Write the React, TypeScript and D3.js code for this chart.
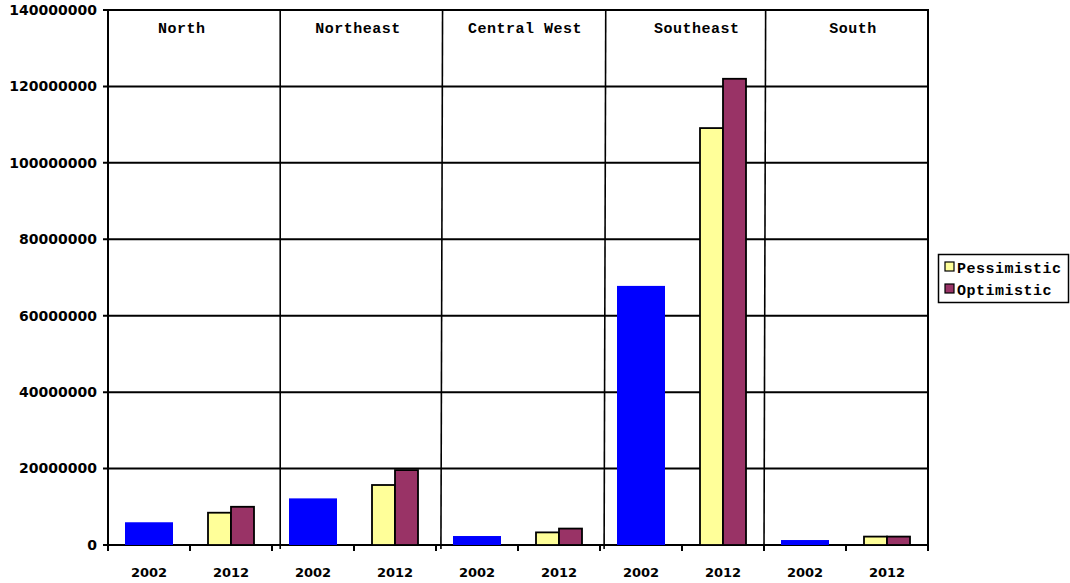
import { useEffect, useRef } from 'react';
import * as d3 from 'd3';

const regions = ['North', 'Northeast', 'Central West', 'Southeast', 'South'];
const years = ['2002', '2012'];
const base2002 = [5.95e6, 12.2e6, 2.35e6, 67.8e6, 1.3e6];
const pessimistic = [8.45e6, 15.7e6, 3.3e6, 109.1e6, 2.2e6];
const optimistic = [10.0e6, 19.6e6, 4.3e6, 122.0e6, 2.2e6];
const yTicks = [0, 20e6, 40e6, 60e6, 80e6, 100e6, 120e6, 140e6];
const legendItems = [
  { label: 'Pessimistic', color: '#FFFF99' },
  { label: 'Optimistic', color: '#993366' },
];
// separator positions between regions, in band units (top, bottom)
const separators: [number, number][] = [[2.1, 2.1], [4.08, 4.06], [6.07, 6.05], [8.02, 8.0]];
// label nudges, in band units
const labelShift = [-0.1, 0.05, 0.085, 0.18, 0.085];

export default function App() {
  const ref = useRef<SVGSVGElement>(null);

  useEffect(() => {
    const svg = d3.select(ref.current);
    svg.selectAll('*').remove();

    const left = 108, right = 928, top = 10, bottom = 545;
    const cats = regions.flatMap((r, i) => years.map(yr => `${i}-${yr}`));
    const x = d3.scaleBand().domain(cats).range([left, right]);
    const y = d3.scaleLinear().domain([0, 140e6]).range([bottom, top]);
    const bw = x.bandwidth();
    const mono = '"Liberation Mono", "Courier New", monospace';
    const sans = '"DejaVu Sans", Verdana, sans-serif';

    // gridlines
    svg.append('g').selectAll('line').data(yTicks).enter().append('line')
      .attr('x1', left - 5).attr('x2', right)
      .attr('y1', d => y(d)).attr('y2', d => y(d))
      .attr('stroke', '#000').attr('stroke-width', 2);

    svg.append('g').selectAll('text').data(yTicks).enter().append('text')
      .attr('x', 97).attr('y', d => y(d)).attr('dy', '0.35em')
      .attr('text-anchor', 'end').attr('font-family', sans).attr('font-weight', 'bold')
      .attr('font-size', 14).text(d => String(d));

    // bars
    const g = svg.append('g');
    regions.forEach((_, i) => {
      const b0 = x(`${i}-2002`)!;
      g.append('rect')
        .attr('x', b0 + bw / 2 - 24).attr('width', 48)
        .attr('y', y(base2002[i])).attr('height', bottom - y(base2002[i]))
        .attr('fill', '#0000FF');
      const b1 = x(`${i}-2012`)!;
      [pessimistic, optimistic].forEach((s, k) => {
        g.append('rect')
          .attr('x', b1 + bw / 2 - 23 + k * 23).attr('width', 23)
          .attr('y', y(s[i])).attr('height', bottom - y(s[i]))
          .attr('fill', legendItems[k].color)
          .attr('stroke', '#000').attr('stroke-width', 1.8);
      });
    });

    // frame
    svg.append('line').attr('x1', left).attr('x2', left).attr('y1', top - 1).attr('y2', bottom + 1)
      .attr('stroke', '#000').attr('stroke-width', 2);
    svg.append('line').attr('x1', right).attr('x2', right).attr('y1', top - 1).attr('y2', bottom + 1)
      .attr('stroke', '#000').attr('stroke-width', 2);

    // x ticks
    const tickPos = d3.range(cats.length + 1).map(i => left + i * bw);
    svg.append('g').selectAll('line').data(tickPos).enter().append('line')
      .attr('x1', d => d).attr('x2', d => d).attr('y1', bottom).attr('y2', bottom + 6)
      .attr('stroke', '#000').attr('stroke-width', 2);

    svg.append('g').selectAll('text').data(cats).enter().append('text')
      .attr('x', d => x(d)! + bw / 2).attr('y', 577)
      .attr('text-anchor', 'middle').attr('font-family', sans).attr('font-weight', 'bold')
      .attr('font-size', 13).text(d => d.split('-')[1]);

    // separators
    svg.append('g').selectAll('line').data(separators).enter().append('line')
      .attr('x1', d => left + d[0] * bw).attr('x2', d => left + d[1] * bw)
      .attr('y1', top - 1).attr('y2', bottom + 4)
      .attr('stroke', '#000').attr('stroke-width', 1.6);

    // region labels
    svg.append('g').selectAll('text').data(regions).enter().append('text')
      .attr('x', (_, i) => x(`${i}-2012`)! + labelShift[i] * bw)
      .attr('y', 33).attr('text-anchor', 'middle')
      .attr('font-family', mono).attr('font-weight', 'bold').attr('font-size', 15)
      .attr('letter-spacing', 0.5).text(d => d);

    // legend
    const lg = svg.append('g');
    lg.append('rect').attr('x', 938.5).attr('y', 254.5).attr('width', 130).attr('height', 48)
      .attr('fill', '#fff').attr('stroke', '#000').attr('stroke-width', 1.5);
    legendItems.forEach((it, k) => {
      const cy = 267 + k * 22;
      lg.append('rect').attr('x', 945).attr('y', cy - 5).attr('width', 9).attr('height', 9)
        .attr('fill', it.color).attr('stroke', '#000').attr('stroke-width', 1.2);
      lg.append('text').attr('x', 957).attr('y', cy + 6)
        .attr('font-family', mono).attr('font-weight', 'bold').attr('font-size', 15)
        .attr('letter-spacing', 0.5).text(it.label);
    });
  }, []);

  return (
    <svg ref={ref} width={1070} height={583}
      style={{ position: 'absolute', left: 0, top: 0, background: '#fff' }} />
  );
}
